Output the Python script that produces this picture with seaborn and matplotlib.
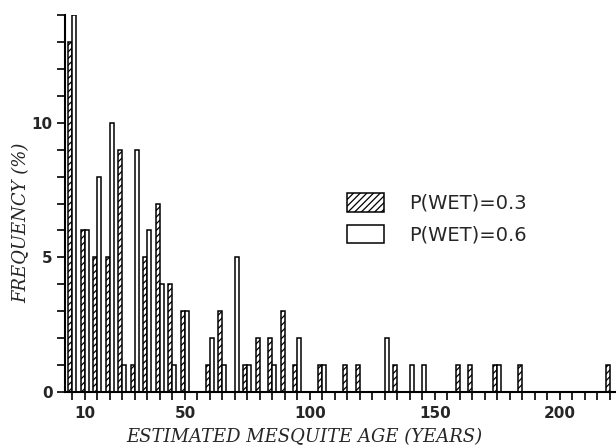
import matplotlib
matplotlib.use("Agg")
import matplotlib.pyplot as plt
from matplotlib.patches import Patch
from matplotlib.ticker import MultipleLocator, FixedLocator
import pandas as pd
import seaborn as sns

# age classes (years) and frequency (%) for the two rainfall scenarios
ages = list(range(5, 225, 5))
wet_03 = [13, 6, 5, 5, 9, 1, 5, 7, 4, 3,
          0, 1, 3, 0, 1, 2, 2, 3, 1, 0,
          1, 0, 1, 1, 0, 0, 1, 0, 0, 0,
          0, 1, 1, 0, 1, 0, 1, 0, 0, 0,
          0, 0, 0, 1]
wet_06 = [14, 6, 8, 10, 1, 9, 6, 4, 1, 3,
          0, 2, 1, 5, 1, 0, 1, 0, 2, 0,
          1, 0, 0, 0, 0, 2, 0, 1, 1, 0,
          0, 0, 0, 0, 1, 0, 0, 0, 0, 0,
          0, 0, 0, 0]
series = ["P(WET)=0.3", "P(WET)=0.6"]

df = pd.concat([
    pd.DataFrame({"age": ages, "freq": wet_03, "series": series[0]}),
    pd.DataFrame({"age": ages, "freq": wet_06, "series": series[1]}),
])

sns.set_style("ticks")
plt.rcParams["hatch.linewidth"] = 0.9

fig = plt.figure(figsize=(6.16, 4.48), dpi=100)
ax = fig.add_axes([0.1055, 0.125, 0.8945, 0.8415])

sns.barplot(data=df, x="age", y="freq", hue="series", hue_order=series,
            native_scale=True, dodge=True, width=0.64, errorbar=None,
            palette={series[0]: "white", series[1]: "white"},
            edgecolor="black", linewidth=1.1, legend=False, ax=ax)

for p in ax.containers[0]:
    p.set_hatch("/////")

ax.set_xlim(2, 222.4)
ax.set_ylim(0, 14)

ax.xaxis.set_major_locator(FixedLocator([10, 50, 100, 150, 200]))
ax.xaxis.set_minor_locator(MultipleLocator(5))
ax.yaxis.set_major_locator(FixedLocator([0, 5, 10]))
ax.yaxis.set_minor_locator(MultipleLocator(1))
ax.tick_params(which="both", direction="out", length=6, width=1.2, color="black")
ax.tick_params(axis="x", pad=4)
ax.tick_params(axis="y", pad=3)
for lab in ax.get_xticklabels() + ax.get_yticklabels():
    lab.set_fontweight("bold")
    lab.set_fontsize(11)
    lab.set_family("DejaVu Sans")

sns.despine(ax=ax, top=True, right=True)
for s in ["left", "bottom"]:
    ax.spines[s].set_linewidth(1.5)
    ax.spines[s].set_color("black")

ax.set_xlabel("ESTIMATED MESQUITE AGE (YEARS)", family="DejaVu Serif",
              style="italic", fontsize=13)
ax.set_ylabel("FREQUENCY (%)", family="DejaVu Serif", style="italic",
              fontsize=13)
ax.xaxis.set_label_coords(0.435, -0.095)
ax.yaxis.set_label_coords(-0.062, 0.45)

handles = [Patch(facecolor="white", edgecolor="black", hatch="/////", linewidth=1.1),
           Patch(facecolor="white", edgecolor="black", linewidth=1.1)]
ax.legend(handles, series, loc="upper left", bbox_to_anchor=(0.512, 0.528),
          frameon=False, fontsize=14, borderpad=0, handlelength=1.9,
          handleheight=1.1, handletextpad=1.3, labelspacing=0.6,
          borderaxespad=0)

fig.savefig("out.png", dpi=100)
